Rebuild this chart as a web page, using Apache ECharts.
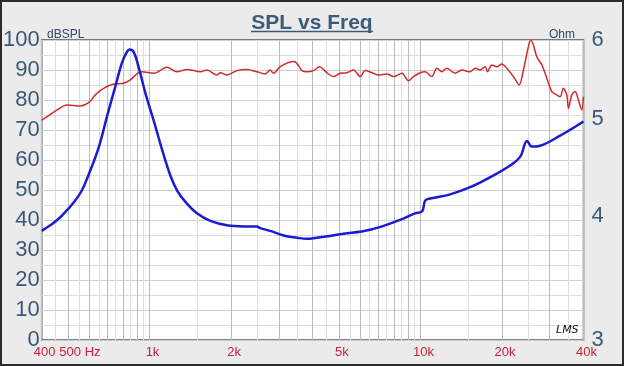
<!DOCTYPE html>
<html>
<head>
<meta charset="utf-8">
<script src="https://cdn.jsdelivr.net/npm/echarts@6/dist/echarts.min.js"></script>
<style>
html,body{margin:0;padding:0;background:#ebebeb;}
#chart{width:624px;height:366px;}
</style>
</head>
<body>
<div id="chart"></div>
<script>
// SPL (red, left axis, dB)
const freqSPL = [400,423,456,496,523,555,596,631,677,737,802,849,899,938,1035,1160,1263,1375,1539,1630,1774,1824,1931,2102,2289,2492,2674,2790,2869,3038,3401,3501,3652,3811,4030,4241,4516,4777,5059,5355,5664,5996,6257,6623,7003,7521,7956,8544,9036,9429,9978,10413,11021,11501,12001,12521,13436,14220,15261,15924,16615,17343,17684,18352,19148,19976,20846,22048,23145,24003,25043,25557,26130,26896,28063,28863,30553,31881,32788,33716,34708,35184,36211,37244,38304,39424,40000];
const splDB = [73.3,74.7,76.7,78.3,78.2,78,79.1,81.7,83.9,85.3,85.6,86.7,88.7,89.4,88.9,90.9,89.4,90.2,89.4,90,88.3,89.1,88.3,89.8,90.2,89.4,88.7,90,88.9,91.1,92.8,92.2,89.8,89.4,89.8,91.1,89.1,87.8,88.9,89.1,90,87.8,89.8,89.1,88.3,88.7,87.8,88.9,86.4,87.8,89.1,89.4,87.8,90.6,89.4,90.6,88.9,90,89.4,90.6,90,91.1,89.4,91.7,91.1,92,90.6,87.8,85,90,97.8,100,98.3,94.4,91.7,88.9,82.8,81.7,81.1,83.9,81.7,77.2,81.7,82.8,80,76.7,81.1];

// Impedance (blue, right axis, Ohm)
const freqZ = [400,430,462,496,532,563,591,649,697,748,791,826,844,873,911,965,1050,1112,1193,1263,1355,1497,1676,1931,2224,2492,2563,2790,3124,3501,3811,4147,4645,5059,6525,8420,9560,10148,10413,10865,12877,15261,18092,21444,23340,24768,25841,27668,32788,40000];
const impOhm = [3.86,3.91,3.97,4.05,4.14,4.24,4.37,4.68,5.03,5.39,5.69,5.84,5.87,5.84,5.64,5.31,4.92,4.66,4.39,4.24,4.13,4.02,3.95,3.91,3.90,3.90,3.885,3.86,3.82,3.80,3.79,3.80,3.815,3.83,3.87,3.96,4.02,4.04,4.14,4.16,4.20,4.27,4.37,4.49,4.58,4.75,4.69,4.70,4.81,4.97];

// Tick labels
const xLabelValues = [400,500,1000,2000,5000,10000,20000,40000];
const xLabelTexts = ['400','500 Hz','1k','2k','5k','10k','20k','40k'];
const ohmTicks = [3,4,5,6];

// Gridline positions (frequency grid)
const xMajorGrid = [];
const xMinorGrid = [];
[100,1000,10000].forEach(function(dec){
  for (let m = 1; m <= 9; m++) {
    const v = m*dec, h = (m+0.5)*dec;
    if (v >= 400 && v <= 40000) xMajorGrid.push(v);
    if (h >= 400 && h <= 40000) xMinorGrid.push(h);
  }
});

const chart = echarts.init(document.getElementById('chart'), null, {renderer:'canvas'});
const FONT = 'Liberation Sans, Arial, sans-serif';
const option = {
  backgroundColor: '#ebebeb',
  animation: false,
  title: [
    {text:'SPL vs Freq', left:'center', top:8, textStyle:{fontFamily:FONT, fontSize:21, fontWeight:'bold', color:'#3e5a79'}},
    {text:'dBSPL', left:42, top:24, textStyle:{fontFamily:FONT, fontSize:12, fontWeight:'normal', color:'#2f4a66'}},
    {text:'Ohm', right:44, top:24, textStyle:{fontFamily:FONT, fontSize:12, fontWeight:'normal', color:'#2f4a66'}},
    {text:'LMS', left:551, top:320, textStyle:{fontFamily:'DejaVu Sans', fontSize:11, fontStyle:'italic', fontWeight:'normal', color:'#111'}}
  ],
  graphic: [
    {type:'line', shape:{x1:251, y1:31.5, x2:373, y2:31.5}, style:{stroke:'#3e5a79', lineWidth:1.5}},
    {type:'rect', shape:{x:1, y:1, width:622, height:364}, style:{fill:null, stroke:'#2b2b2b', lineWidth:2}, z:100}
  ],
  grid: {left:41.5, right:40.5, top:40, bottom:26, show:true, backgroundColor:'#ffffff', borderColor:'#555555', borderWidth:1.5},
  xAxis: [
    {
      type:'log', logBase:10, min:400, max:40000, position:'bottom',
      axisLine:{show:false}, axisTick:{show:false, customValues:xMajorGrid},
      splitLine:{show:true, lineStyle:{color:'#bcbcbc', width:1}},
      axisLabel:{
        customValues:xLabelValues, margin:6, fontFamily:FONT, fontSize:13, color:'#c81e3c',
        formatter:function(v){
          const i = xLabelValues.indexOf(Math.round(v));
          const t = i >= 0 ? xLabelTexts[i] : '';
          return i === 1 ? '{h|' + t + '}' : '{n|' + t + '}';
        },
        rich:{
          n:{fontFamily:FONT, fontSize:13, color:'#c81e3c', padding:[0,0,0,6]},
          h:{fontFamily:FONT, fontSize:13, color:'#c81e3c', padding:[0,0,0,24]}
        }
      }
    },
    {
      type:'log', logBase:10, min:400, max:40000, position:'bottom',
      axisLine:{show:false}, axisTick:{show:false, customValues:xMinorGrid},
      axisLabel:{show:false},
      splitLine:{show:true, lineStyle:{color:'#dedede', width:1}}
    }
  ],
  yAxis: [
    {
      type:'value', min:0, max:100, interval:10, position:'left',
      axisLine:{show:false}, axisTick:{show:false},
      splitLine:{show:true, lineStyle:{color:'#cfcfcf', width:1}},
      minorTick:{show:false, splitNumber:2},
      minorSplitLine:{show:true, lineStyle:{color:'#dcdcdc', width:1}},
      axisLabel:{margin:2, fontFamily:FONT, fontSize:22, color:'#3b5877', verticalAlign:'middle', padding:[3,0,0,0]}
    },
    {
      type:'log', logBase:10, min:3, max:6, position:'right',
      axisLine:{show:false}, axisTick:{show:false, customValues:ohmTicks},
      splitLine:{show:false},
      axisLabel:{customValues:ohmTicks, margin:8, fontFamily:FONT, fontSize:22, color:'#3b5877', padding:[3,0,0,0]}
    }
  ],
  series: [
    {
      name:'SPL', type:'line', xAxisIndex:0, yAxisIndex:0, smooth:0.3, symbol:'none',
      lineStyle:{color:'#d22b2b', width:1.5},
      data: freqSPL.map(function(f,i){return [f, splDB[i]];})
    },
    {
      name:'Impedance', type:'line', xAxisIndex:0, yAxisIndex:1, smooth:0.4, symbol:'none',
      lineStyle:{color:'#1c1ccf', width:2.5},
      data: freqZ.map(function(f,i){return [f, impOhm[i]];})
    }
  ]
};
chart.setOption(option);
</script>
</body>
</html>
